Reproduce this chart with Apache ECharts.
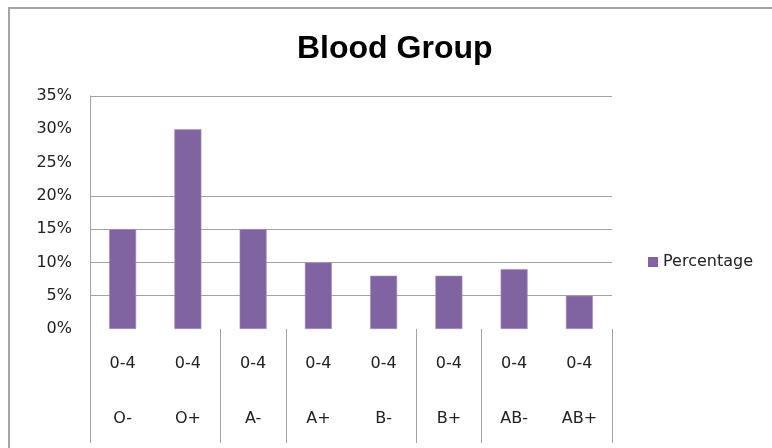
<!DOCTYPE html>
<html>
<head>
<meta charset="utf-8">
<script src="https://cdn.jsdelivr.net/npm/echarts@6/dist/echarts.min.js"></script>
<style>
  html, body { margin: 0; padding: 0; background: #fff; }
  #chart { width: 772px; height: 448px; }
</style>
</head>
<body>
<div id="chart"></div>
<script>
// data
const bloodGroups = ['O-', 'O+', 'A-', 'A+', 'B-', 'B+', 'AB-', 'AB+'];
const ageRanges = ['0-4', '0-4', '0-4', '0-4', '0-4', '0-4', '0-4', '0-4'];
const percentages = [15, 30, 15, 10, 8, 8, 9, 5];
// y ticks, and the ones that still show a grid line in the scan
const yTicks = [0, 5, 10, 15, 20, 25, 30, 35];
const gridLineTicks = [5, 10, 15, 20, 35];
// category boundaries where a divider line is drawn below the axis
const dividerAt = [0, 2, 3, 5, 6];

const chart = echarts.init(document.getElementById('chart'));

const gridColors = yTicks.map(v => gridLineTicks.indexOf(v) >= 0 ? '#a3a3a3' : 'rgba(0,0,0,0)');
const textColor = '#222';

const option = {
  animation: false,
  backgroundColor: '#fff',
  textStyle: { fontFamily: 'DejaVu Sans' },
  graphic: [{
    type: 'rect',
    shape: { x: 9, y: 8, width: 800, height: 500 },
    style: { fill: 'none', stroke: '#a6a6a6', lineWidth: 2 },
    silent: true
  }],
  title: {
    text: 'Blood Group',
    left: 297,
    top: 33,
    padding: 0,
    textStyle: {
      fontFamily: 'Liberation Sans',
      fontWeight: 'bold',
      fontSize: 32,
      color: '#000'
    }
  },
  legend: {
    data: ['Percentage'],
    left: 648,
    top: 254,
    padding: 0,
    itemWidth: 10,
    itemHeight: 10,
    icon: 'rect',
    itemStyle: { borderWidth: 0 },
    textStyle: { fontSize: 16, color: textColor, fontFamily: 'DejaVu Sans', padding: [0, 0, 0, 0] }
  },
  grid: { left: 90, right: 160, top: 96, bottom: 119 },
  xAxis: {
    type: 'category',
    data: bloodGroups,
    axisLine: { show: false },
    axisTick: {
      show: true,
      length: 114,
      interval: (i) => dividerAt.indexOf(i) >= 0,
      lineStyle: { color: '#a3a3a3', width: 1 }
    },
    axisLabel: {
      interval: 0,
      margin: 21,
      fontSize: 16,
      lineHeight: 27.5,
      color: textColor,
      formatter: (v, i) => ageRanges[i] + '\n\n' + v
    }
  },
  yAxis: {
    type: 'value',
    min: yTicks[0],
    max: yTicks[yTicks.length - 1],
    interval: yTicks[1] - yTicks[0],
    axisLine: { show: true, lineStyle: { color: '#a3a3a3', width: 1 } },
    axisTick: { show: false },
    axisLabel: { formatter: '{value}%', fontSize: 16, margin: 18, color: textColor },
    splitLine: { show: true, lineStyle: { color: gridColors, width: 1 } }
  },
  series: [{
    name: 'Percentage',
    type: 'bar',
    data: percentages,
    barWidth: 27,
    itemStyle: { color: '#8064a2', borderColor: '#a592c0', borderWidth: 0.6 }
  }]
};

chart.setOption(option);
</script>
</body>
</html>
